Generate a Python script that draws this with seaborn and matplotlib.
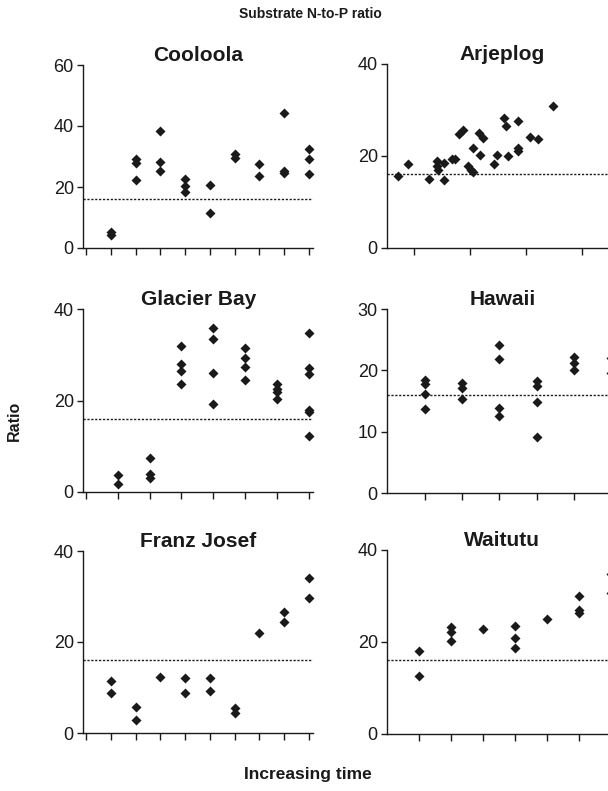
import matplotlib
matplotlib.use("Agg")
import matplotlib.pyplot as plt
import seaborn as sns
import pandas as pd

# Substrate N:P ratios along six soil chronosequences
cooloola_time = [1, 1, 2, 2, 2, 3, 3, 3, 4, 4, 4, 5, 5, 6, 6, 7, 7, 8, 8, 8, 9, 9, 9]
cooloola_ratio = [5.2, 4.3, 29.3, 27.9, 22.4, 38.2, 28.1, 25.3, 22.6, 20.4, 18.2,
                  20.5, 11.5, 30.7, 29.5, 27.7, 23.7, 44.4, 25.4, 24.6, 32.6, 29.3, 24.2]

arjeplog_time = [0.72, 0.89, 1.27, 1.41, 1.41, 1.42, 1.54, 1.54, 1.67, 1.74, 1.80, 1.88,
                 1.97, 2.02, 2.06, 2.05, 2.16, 2.17, 2.24, 2.43, 2.48, 2.60, 2.64, 2.68,
                 2.85, 2.85, 2.86, 3.07, 3.22, 3.49]
arjeplog_ratio = [15.6, 18.2, 15.1, 18.9, 17.9, 17.0, 18.5, 14.8, 19.3, 19.3, 24.7, 25.7,
                  17.8, 17.0, 16.5, 21.7, 24.9, 20.2, 24.0, 18.2, 20.2, 28.2, 26.6, 20.1,
                  21.8, 21.0, 27.5, 24.2, 23.6, 30.9]

glacier_time = [1, 1, 2, 2, 2, 3, 3, 3, 3, 4, 4, 4, 4, 5, 5, 5, 5, 6, 6, 6, 6,
                7, 7, 7, 7, 7, 7]
glacier_ratio = [3.65, 1.7, 7.4, 3.9, 3.0, 31.9, 28.0, 26.4, 23.5, 35.8, 33.4, 26.1, 19.3,
                 31.5, 29.3, 27.3, 24.4, 23.5, 22.6, 21.8, 20.4,
                 34.7, 27.2, 25.7, 18.0, 17.4, 12.3]

hawaii_time = [1, 1, 1, 1, 2, 2, 2, 3, 3, 3, 3, 4, 4, 4, 4, 5, 5, 5, 6, 6]
hawaii_ratio = [18.5, 17.8, 16.2, 13.7, 18.0, 17.2, 15.3, 24.2, 21.8, 13.8, 12.6,
                18.2, 17.4, 14.8, 9.1, 22.1, 21.2, 20.0, 22.0, 19.6]

franz_time = [1, 1, 2, 2, 3, 4, 4, 5, 5, 6, 6, 7, 8, 8, 9, 9]
franz_ratio = [11.5, 8.8, 5.7, 2.8, 12.2, 12.0, 8.7, 12.0, 9.2, 5.5, 4.5, 21.9,
               26.5, 24.3, 34.1, 29.7]

waitutu_time = [1, 1, 2, 2, 2, 3, 4, 4, 4, 5, 6, 6, 6, 7, 7]
waitutu_ratio = [18.0, 12.7, 23.3, 22.1, 20.3, 22.8, 23.5, 20.8, 18.8, 25.1,
                 30.0, 26.9, 26.2, 34.8, 30.7]

site_names = ["Cooloola", "Arjeplog", "Glacier Bay", "Hawaii", "Franz Josef", "Waitutu"]
reference_ratio = 16

sns.set_theme(style="ticks")
plt.rcParams["font.family"] = ["Liberation Sans", "DejaVu Sans"]
ink = "#1a1a1a"
plt.rcParams.update({
    "axes.edgecolor": ink,
    "axes.linewidth": 1.0,
    "xtick.color": ink,
    "ytick.color": ink,
    "xtick.major.width": 1.0,
    "ytick.major.width": 1.0,
    "xtick.major.size": 5.0,
    "ytick.major.size": 4.3,
    "ytick.major.pad": 2.5,
    "ytick.labelsize": 13,
})

W, H = 608, 791
fig = plt.figure(figsize=(W / 100, H / 100), dpi=100)

panels = [
    # name, times, ratios, axes rect (px: left, y of zero, width, height), xlim, xticks, ylim, yticks
    (site_names[0], cooloola_time, cooloola_ratio, (83.3, 248, 230, 183), (-0.12, 9.18), range(0, 10), 60, [0, 20, 40, 60]),
    (site_names[1], arjeplog_time, arjeplog_ratio, (387.3, 248, 230, 184), (0.523, 4.63), range(1, 5), 40, [0, 20, 40]),
    (site_names[2], glacier_time, glacier_ratio, (83.3, 492, 230, 183), (-0.075, 7.13), range(0, 8), 40, [0, 20, 40]),
    (site_names[3], hawaii_time, hawaii_ratio, (387.3, 493, 230, 184), (0.0, 6.16), range(1, 7), 30, [0, 10, 20, 30]),
    (site_names[4], franz_time, franz_ratio, (83.3, 733, 230, 182), (-0.12, 9.18), range(0, 10), 40, [0, 20, 40]),
    (site_names[5], waitutu_time, waitutu_ratio, (387.3, 734, 230, 184), (0.0, 7.2), range(1, 8), 40, [0, 20, 40]),
]

for name, t, r, (lx, y0, w, h), xlim, xticks, ymax, yticks in panels:
    ax = fig.add_axes([lx / W, (H - y0) / H, w / W, h / H])
    df = pd.DataFrame({"time": t, "ratio": r})
    sns.scatterplot(data=df, x="time", y="ratio", marker="D", s=26, color=ink,
                    linewidth=0, ax=ax, clip_on=False, zorder=3)
    ax.axhline(reference_ratio, color=ink, lw=1.0, ls=(0, (1.6, 1.2)), zorder=2)
    ax.set_xlim(*xlim)
    ax.set_ylim(0, ymax)
    ax.set_xticks(list(xticks))
    ax.set_xticklabels([])
    ax.set_yticks(yticks)
    ax.set_xlabel("")
    ax.set_ylabel("")
    sns.despine(ax=ax)
    ax.set_title(name, fontsize=15, fontweight="bold", pad=0, color=ink)

fig.text(0.51, 1 - 14 / H, "Substrate N-to-P ratio", ha="center", va="center",
         fontsize=10, fontweight="bold", color=ink)
fig.text(14 / W, 1 - 421 / H, "Ratio", ha="center", va="center", rotation=90,
         fontsize=11.5, fontweight="bold", color=ink)
fig.text(308 / W, 1 - 775 / H, "Increasing time", ha="center", va="center",
         fontsize=12.5, fontweight="bold", color=ink)

fig.savefig("out.png", dpi=100, facecolor="white")
